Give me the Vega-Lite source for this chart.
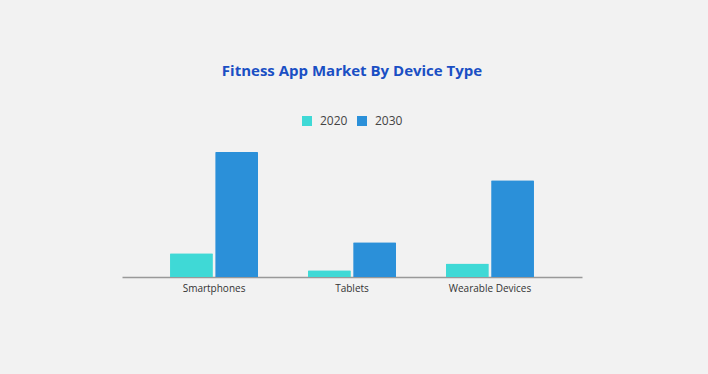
{
  "$schema": "https://vega.github.io/schema/vega-lite/v6.json",
  "autosize": "none",
  "width": 460,
  "height": 130,
  "padding": {"left": 122, "top": 147, "right": 126, "bottom": 97},
  "background": "#f2f2f2",
  "title": {
    "text": "Fitness App Market By Device Type",
    "font": "Open Sans",
    "fontSize": 15,
    "fontWeight": "bold",
    "color": "#1a4fc4",
    "anchor": "middle",
    "offset": 36
  },
  "data": {
    "values": [
      {"device": "Smartphones", "year": "2020", "value": 23.7},
      {"device": "Smartphones", "year": "2030", "value": 125},
      {"device": "Tablets", "year": "2020", "value": 6.7},
      {"device": "Tablets", "year": "2030", "value": 34.7},
      {"device": "Wearable Devices", "year": "2020", "value": 13.4},
      {"device": "Wearable Devices", "year": "2030", "value": 96.7}
    ]
  },
  "mark": {"type": "bar", "cornerRadiusTopLeft": 1, "cornerRadiusTopRight": 1},
  "encoding": {
    "x": {
      "field": "device",
      "type": "nominal",
      "sort": null,
      "scale": {"paddingInner": 0.362, "paddingOuter": 0.348},
      "axis": {
        "title": null,
        "labelAngle": 0,
        "ticks": false,
        "domainColor": "#999999",
        "domainWidth": 1.5,
        "labelFont": "Open Sans",
        "labelFontSize": 10,
        "labelColor": "#333333",
        "labelPadding": 6
      }
    },
    "xOffset": {"field": "year", "type": "nominal", "scale": {"paddingInner": 0.05}},
    "y": {
      "field": "value",
      "type": "quantitative",
      "scale": {"domain": [0, 130], "nice": false},
      "axis": null
    },
    "color": {
      "field": "year",
      "type": "nominal",
      "scale": {"domain": ["2020", "2030"], "range": ["#3fd9d6", "#2b90d9"]},
      "legend": {
        "title": null,
        "orient": "none",
        "legendX": 179,
        "legendY": -32,
        "direction": "horizontal",
        "symbolType": "square",
        "symbolSize": 100,
        "symbolStrokeWidth": 0,
        "labelFont": "Open Sans",
        "labelFontSize": 12,
        "labelColor": "#444444",
        "labelOffset": 7,
        "columnPadding": 8
      }
    }
  },
  "config": {"view": {"stroke": null}}
}
